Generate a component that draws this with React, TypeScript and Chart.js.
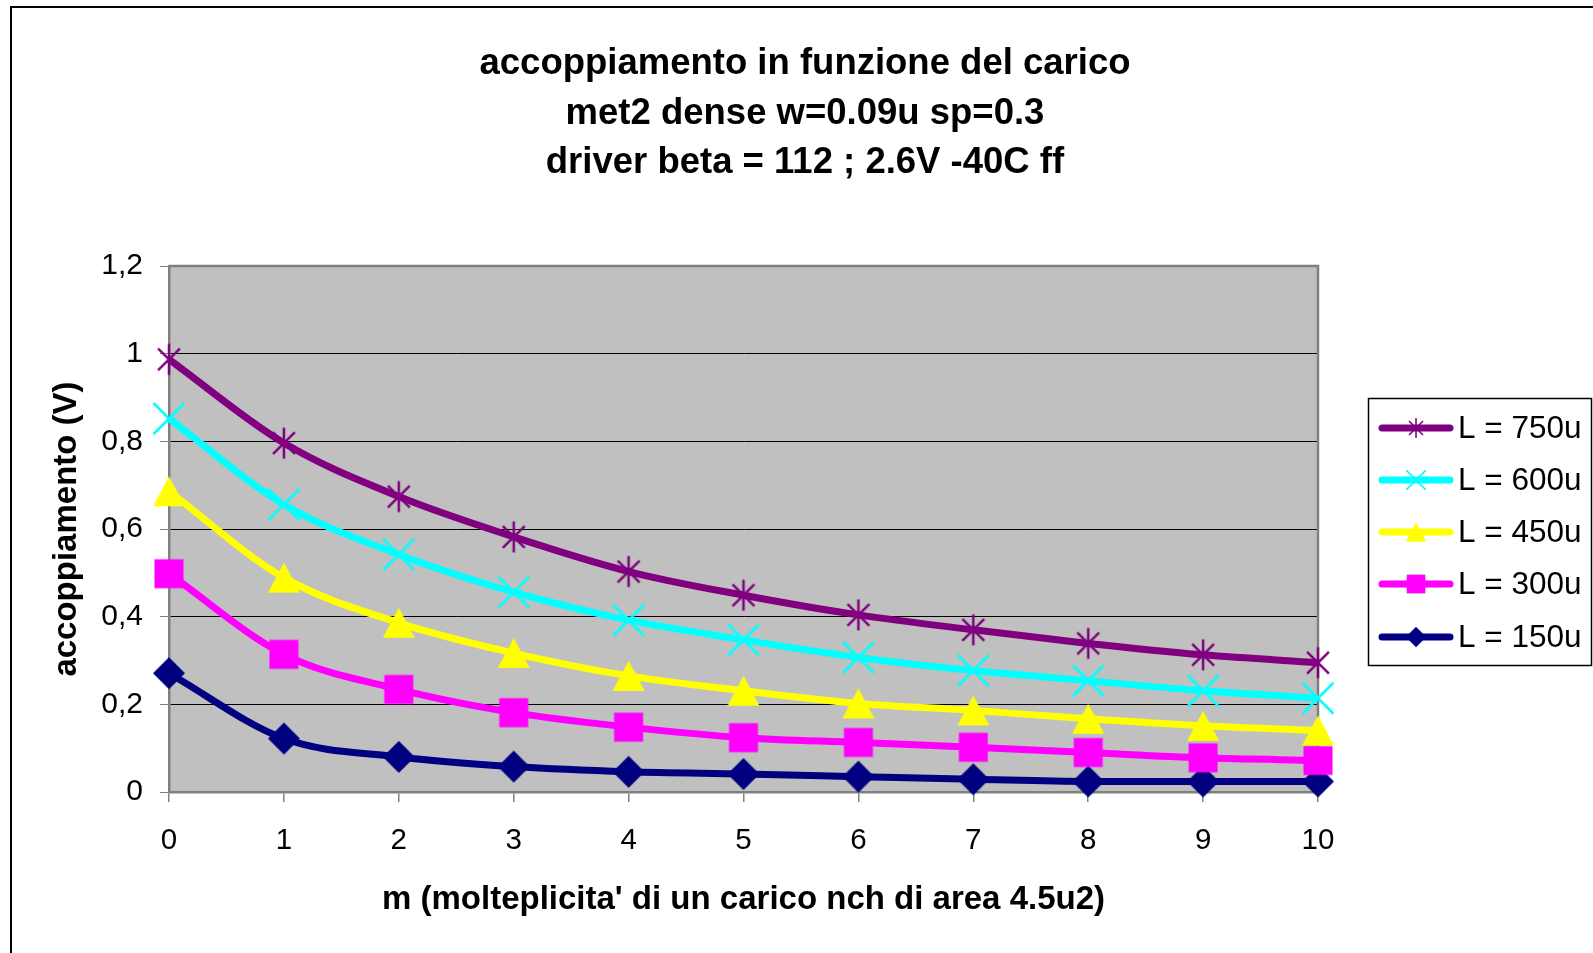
import React, { useEffect, useRef } from 'react';
import { Chart, registerables } from 'chart.js';

Chart.register(...registerables);

const xLabels = ['0', '1', '2', '3', '4', '5', '6', '7', '8', '9', '10'];
const yTickLabels = ['0', '0,2', '0,4', '0,6', '0,8', '1', '1,2'];
const titleLines = [
  'accoppiamento in funzione del carico',
  'met2 dense w=0.09u sp=0.3',
  'driver beta = 112 ; 2.6V -40C ff',
];
const xTitle = "m (molteplicita' di un carico nch di area 4.5u2)";
const yTitle = 'accoppiamento (V)';
const seriesNames = ['L = 750u', 'L = 600u', 'L = 450u', 'L = 300u', 'L = 150u'];

const l750 = [0.987, 0.796, 0.674, 0.582, 0.503, 0.449, 0.404, 0.370, 0.339, 0.313, 0.295];
const l600 = [0.852, 0.656, 0.542, 0.456, 0.392, 0.347, 0.307, 0.277, 0.254, 0.231, 0.214];
const l450 = [0.686, 0.489, 0.386, 0.317, 0.265, 0.231, 0.202, 0.186, 0.167, 0.151, 0.140];
const l300 = [0.498, 0.314, 0.234, 0.181, 0.148, 0.124, 0.113, 0.102, 0.090, 0.078, 0.072];
const l150 = [0.271, 0.122, 0.080, 0.058, 0.046, 0.041, 0.035, 0.029, 0.024, 0.024, 0.024];

const seriesValues = [l750, l600, l450, l300, l150];
const seriesColors = ['#800080', '#00FFFF', '#FFFF00', '#FF00FF', '#000080'];
const seriesMarkers = ['asterisk', 'x', 'triangle', 'square', 'diamond'];

const FONT = '"Liberation Sans", Arial, Helvetica, sans-serif';
const W = 1593;
const H = 953;

function makeMarker(kind: string, color: string): HTMLCanvasElement {
  const c = document.createElement('canvas');
  const s = 36;
  c.width = s;
  c.height = s;
  const ctx = c.getContext('2d') as CanvasRenderingContext2D;
  const m = s / 2;
  ctx.fillStyle = color;
  ctx.strokeStyle = color;
  ctx.lineWidth = 2.5;
  if (kind === 'asterisk') {
    const r = 15.5;
    const d = r * 0.7071;
    ctx.beginPath();
    ctx.moveTo(m - d, m - d); ctx.lineTo(m + d, m + d);
    ctx.moveTo(m + d, m - d); ctx.lineTo(m - d, m + d);
    ctx.moveTo(m, m - r); ctx.lineTo(m, m + r);
    ctx.stroke();
  } else if (kind === 'x') {
    const d = 15.5;
    ctx.beginPath();
    ctx.moveTo(m - d, m - d); ctx.lineTo(m + d, m + d);
    ctx.moveTo(m + d, m - d); ctx.lineTo(m - d, m + d);
    ctx.stroke();
  } else if (kind === 'triangle') {
    ctx.beginPath();
    ctx.moveTo(m, m - 15);
    ctx.lineTo(m + 16, m + 15);
    ctx.lineTo(m - 16, m + 15);
    ctx.closePath();
    ctx.fill();
  } else if (kind === 'square') {
    ctx.fillRect(m - 14.5, m - 14.5, 29, 29);
  } else if (kind === 'diamond') {
    ctx.beginPath();
    ctx.moveTo(m, m - 16);
    ctx.lineTo(m + 16, m);
    ctx.lineTo(m, m + 16);
    ctx.lineTo(m - 16, m);
    ctx.closePath();
    ctx.fill();
  }
  return c;
}

export default function App() {
  const ref = useRef<HTMLCanvasElement | null>(null);

  useEffect(() => {
    const canvas = ref.current;
    if (!canvas) return;
    const markers = seriesMarkers.map((k, i) => makeMarker(k, seriesColors[i]));

    const backgroundPlugin = {
      id: 'bgFrame',
      beforeDraw(chart: any) {
        const { ctx, chartArea } = chart;
        ctx.save();
        ctx.fillStyle = '#ffffff';
        ctx.fillRect(0, 0, W, H);
        ctx.strokeStyle = '#000000';
        ctx.lineWidth = 2;
        ctx.strokeRect(11, 7, W + 20, H + 20);
        ctx.fillStyle = '#C0C0C0';
        ctx.fillRect(chartArea.left, chartArea.top, chartArea.right - chartArea.left, chartArea.bottom - chartArea.top);
        // titles
        ctx.fillStyle = '#000000';
        ctx.font = `bold 36.5px ${FONT}`;
        ctx.textAlign = 'center';
        ctx.textBaseline = 'middle';
        const ys = [64, 114, 163];
        titleLines.forEach((t, i) => ctx.fillText(t, 805, ys[i]));
        ctx.restore();
      },
      beforeDatasetsDraw(chart: any) {
        const { ctx, chartArea } = chart;
        ctx.save();
        ctx.strokeStyle = '#808080';
        ctx.lineWidth = 2.5;
        ctx.beginPath();
        ctx.moveTo(chartArea.left, chartArea.top);
        ctx.lineTo(chartArea.right, chartArea.top);
        ctx.lineTo(chartArea.right, chartArea.bottom);
        ctx.stroke();
        ctx.restore();
      },
      afterDraw(chart: any) {
        const { ctx } = chart;
        ctx.save();
        const bx = 1368, by = 398, bw = 223, bh = 267;
        ctx.fillStyle = '#ffffff';
        ctx.fillRect(bx, by, bw, bh);
        ctx.strokeStyle = '#000000';
        ctx.lineWidth = 1.5;
        ctx.strokeRect(bx + 0.5, by + 0.5, bw, bh);
        const ys = [428, 480, 532, 584, 637];
        chart.data.datasets.forEach((ds: any, i: number) => {
          const y = ys[i];
          ctx.strokeStyle = ds.borderColor;
          ctx.lineWidth = 7;
          ctx.lineCap = 'round';
          ctx.beginPath();
          ctx.moveTo(1382, y);
          ctx.lineTo(1450, y);
          ctx.stroke();
          const mk = markers[i];
          const k = 0.64;
          ctx.drawImage(mk, 1416 - (mk.width * k) / 2, y - (mk.height * k) / 2, mk.width * k, mk.height * k);
          ctx.fillStyle = '#000000';
          ctx.font = `31.5px ${FONT}`;
          ctx.textAlign = 'left';
          ctx.textBaseline = 'middle';
          ctx.fillText(ds.label, 1458, y + 1);
        });
        ctx.restore();
      },
    };

    const chart = new Chart(canvas, {
      type: 'line',
      data: {
        labels: xLabels,
        datasets: seriesValues.map((vals, i) => ({
          label: seriesNames[i],
          data: vals,
          borderColor: seriesColors[i],
          backgroundColor: seriesColors[i],
          borderWidth: 7,
          tension: 0.4,
          cubicInterpolationMode: 'monotone',
          pointStyle: markers[i],
          pointRadius: 6,
          clip: false,
          fill: false,
        })) as any,
      },
      options: {
        animation: false,
        responsive: false,
        events: [],
        devicePixelRatio: 1,
        layout: { padding: { left: 10, right: W - 1318, top: 266, bottom: 0 } },
        plugins: {
          legend: { display: false },
          title: { display: false },
          tooltip: { enabled: false },
        },
        scales: {
          x: {
            type: 'category',
            offset: false,
            grid: {
              display: true,
              drawOnChartArea: false,
              drawTicks: true,
              tickLength: 10,
              tickColor: '#808080',
              lineWidth: 1.5,
            },
            border: { display: true, color: '#808080', width: 2.5 },
            ticks: {
              color: '#000000',
              font: { family: FONT, size: 29.5 },
              padding: 21,
              maxRotation: 0,
              autoSkip: false,
            },
            title: {
              display: true,
              text: xTitle,
              color: '#000000',
              font: { family: FONT, size: 33, weight: 'bold' },
              padding: { top: 0, bottom: 33 },
            },
            afterFit(scale: any) {
              scale.height = H - 792;
            },
          },
          y: {
            min: 0,
            max: 1.2,
            grid: {
              color: '#000000',
              lineWidth: 1,
              drawTicks: true,
              tickLength: 9,
              tickColor: '#808080',
            },
            border: { display: true, color: '#808080', width: 2.5 },
            ticks: {
              stepSize: 0.2,
              color: '#000000',
              font: { family: FONT, size: 30 },
              padding: 17,
              callback: (_v: any, i: number) => yTickLabels[i] ?? '',
            },
            title: {
              display: true,
              text: yTitle,
              color: '#000000',
              font: { family: FONT, size: 33, weight: 'bold' },
              padding: { top: 37, bottom: 0 },
            },
            afterFit(scale: any) {
              scale.width = 169 - 10;
            },
          },
        },
      } as any,
      plugins: [backgroundPlugin],
    });

    return () => chart.destroy();
  }, []);

  return (
    <canvas
      ref={ref}
      width={W}
      height={H}
      style={{ position: 'fixed', left: 0, top: 0, width: W, height: H, display: 'block' }}
    />
  );
}
